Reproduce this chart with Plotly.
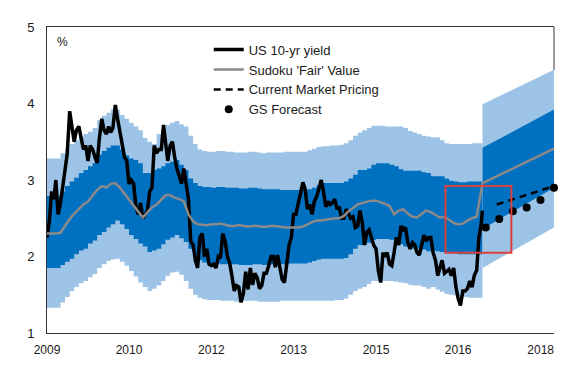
import pandas as pd
import plotly.graph_objects as go

# ---------------- data ----------------
TICK_DATES = ['2009-01-01', '2010-07-01', '2012-01-01', '2013-07-01',
              '2015-01-01', '2016-07-01', '2018-01-01']
TICK_LABELS = ['2009', '2010', '2012', '2013', '2015', '2016', '2018']

# US 10-yr yield, read on the 1st and 16th of each month
YIELD_2009 = [2.25, 2.45, 2.85, 2.75, 3.00, 2.55, 2.70, 2.90, 3.15, 3.35, 3.90, 3.70,
              3.50, 3.65, 3.70, 3.55, 3.40, 3.45, 3.25, 3.45, 3.40, 3.30, 3.22, 3.55]
YIELD_2010 = [3.80, 3.65, 3.60, 3.70, 3.62, 3.68, 3.98, 3.80, 3.65, 3.45, 3.30, 3.25,
              2.95, 3.00, 2.95, 2.65, 2.55, 2.70, 2.50, 2.55, 2.60, 2.85, 2.90, 3.45]
YIELD_2011 = [3.35, 3.40, 3.40, 3.72, 3.45, 3.25, 3.45, 3.50, 3.30, 3.15, 3.05, 2.95,
              3.15, 2.95, 2.75, 2.20, 2.15, 1.95, 1.85, 2.25, 2.30, 2.00, 2.10, 1.90]
YIELD_2012 = [1.88, 1.90, 1.85, 2.00, 1.98, 2.30, 2.20, 2.00, 1.92, 1.75, 1.55, 1.62,
              1.60, 1.40, 1.52, 1.80, 1.57, 1.85, 1.63, 1.78, 1.72, 1.58, 1.62, 1.78]
YIELD_2013 = [1.78, 1.88, 2.00, 2.00, 1.86, 2.02, 1.85, 1.70, 1.66, 1.95, 2.15, 2.25,
              2.55, 2.55, 2.68, 2.85, 2.97, 2.88, 2.62, 2.68, 2.55, 2.72, 2.78, 2.88]
YIELD_2014 = [3.00, 2.85, 2.65, 2.72, 2.68, 2.70, 2.75, 2.62, 2.65, 2.50, 2.50, 2.62,
              2.55, 2.50, 2.52, 2.38, 2.40, 2.60, 2.45, 2.15, 2.32, 2.35, 2.25, 2.15]
YIELD_2015 = [2.10, 1.82, 1.66, 2.05, 2.00, 2.05, 1.90, 1.88, 2.05, 2.25, 2.15, 2.40,
              2.35, 2.38, 2.18, 2.10, 2.18, 2.15, 2.05, 2.02, 2.15, 2.28, 2.20, 2.25]
YIELD_2016 = [2.25, 2.05, 1.95, 1.75, 1.85, 1.95, 1.78, 1.80, 1.83, 1.75, 1.85, 1.60,
              1.45, 1.36, 1.55, 1.55, 1.58, 1.68, 1.60, 1.75, 1.82, 2.25, 2.42]
YIELD_END_DATE = '2016-12-09'
YIELD_END = 2.60

# Sudoku 'Fair' value and bands, monthly Jan 2009 - Nov 2016
FAIR = [2.30, 2.30, 2.30, 2.31, 2.40, 2.49, 2.56, 2.62, 2.68, 2.72, 2.80, 2.87,
        2.92, 2.90, 2.95, 2.96, 2.90, 2.82, 2.75, 2.67, 2.58, 2.51, 2.58, 2.64,
        2.68, 2.74, 2.80, 2.80, 2.77, 2.75, 2.72, 2.55, 2.46, 2.42, 2.41, 2.41,
        2.42, 2.42, 2.43, 2.41, 2.40, 2.40, 2.41, 2.40, 2.39, 2.40, 2.40, 2.39,
        2.39, 2.40, 2.40, 2.39, 2.38, 2.38, 2.38, 2.38, 2.39, 2.42, 2.45, 2.47,
        2.47, 2.48, 2.49, 2.50, 2.50, 2.53, 2.59, 2.64, 2.68, 2.70, 2.72, 2.73,
        2.73, 2.71, 2.69, 2.66, 2.55, 2.60, 2.62, 2.56, 2.52, 2.51, 2.56, 2.60,
        2.58, 2.54, 2.51, 2.52, 2.48, 2.44, 2.42, 2.43, 2.47, 2.50, 2.52]
LIGHT_UP = [3.28, 3.28, 3.28, 3.35, 3.40, 3.47, 3.52, 3.57, 3.60, 3.63, 3.68, 3.78,
            3.84, 3.88, 3.92, 3.92, 3.85, 3.80, 3.75, 3.70, 3.65, 3.55, 3.50, 3.47,
            3.60, 3.66, 3.72, 3.75, 3.77, 3.73, 3.70, 3.58, 3.47, 3.40, 3.38, 3.37,
            3.37, 3.38, 3.38, 3.37, 3.37, 3.36, 3.36, 3.36, 3.37, 3.37, 3.36, 3.35,
            3.36, 3.36, 3.36, 3.36, 3.37, 3.37, 3.37, 3.37, 3.37, 3.39, 3.41, 3.43,
            3.44, 3.44, 3.45, 3.45, 3.46, 3.48, 3.52, 3.58, 3.62, 3.65, 3.68, 3.71,
            3.71, 3.71, 3.70, 3.70, 3.70, 3.70, 3.68, 3.64, 3.62, 3.60, 3.58, 3.57,
            3.56, 3.56, 3.52, 3.48, 3.47, 3.47, 3.47, 3.47, 3.47, 3.48, 3.48]
DARK_UP = [2.79, 2.79, 2.79, 2.85, 2.92, 2.98, 3.03, 3.09, 3.13, 3.18, 3.22, 3.33,
           3.38, 3.42, 3.45, 3.45, 3.40, 3.32, 3.28, 3.26, 3.22, 3.09, 3.09, 3.13,
           3.15, 3.18, 3.22, 3.24, 3.26, 3.20, 3.13, 3.02, 2.96, 2.92, 2.91, 2.91,
           2.90, 2.91, 2.91, 2.90, 2.90, 2.90, 2.89, 2.89, 2.90, 2.90, 2.89, 2.88,
           2.88, 2.88, 2.88, 2.87, 2.87, 2.87, 2.87, 2.87, 2.87, 2.88, 2.90, 2.93,
           2.96, 2.96, 2.96, 2.96, 2.96, 2.98, 3.02, 3.07, 3.13, 3.13, 3.15, 3.20,
           3.22, 3.22, 3.22, 3.20, 3.18, 3.14, 3.12, 3.12, 3.12, 3.12, 3.10, 3.09,
           3.05, 3.05, 3.05, 3.02, 2.99, 2.98, 2.97, 2.97, 2.98, 2.98, 2.98]
DARK_LO = [1.85, 1.85, 1.85, 1.89, 1.93, 1.97, 2.03, 2.08, 2.10, 2.17, 2.21, 2.28,
           2.32, 2.38, 2.42, 2.47, 2.42, 2.36, 2.28, 2.23, 2.17, 2.13, 2.06, 2.08,
           2.10, 2.16, 2.22, 2.25, 2.28, 2.24, 2.19, 2.10, 2.00, 1.95, 1.92, 1.91,
           1.91, 1.91, 1.90, 1.90, 1.90, 1.90, 1.89, 1.89, 1.89, 1.90, 1.90, 1.89,
           1.89, 1.90, 1.90, 1.90, 1.90, 1.91, 1.91, 1.91, 1.91, 1.92, 1.94, 1.96,
           1.97, 1.97, 1.97, 1.97, 1.97, 1.98, 2.03, 2.10, 2.15, 2.15, 2.18, 2.22,
           2.23, 2.23, 2.23, 2.22, 2.20, 2.16, 2.13, 2.11, 2.10, 2.10, 2.09, 2.07,
           2.08, 2.07, 2.06, 2.05, 2.05, 2.04, 2.03, 2.03, 2.03, 2.03, 2.03]
LIGHT_LO = [1.33, 1.33, 1.33, 1.40, 1.47, 1.55, 1.60, 1.65, 1.68, 1.73, 1.77, 1.85,
            1.90, 1.94, 1.96, 1.97, 1.93, 1.88, 1.81, 1.74, 1.66, 1.60, 1.55, 1.58,
            1.62, 1.68, 1.75, 1.79, 1.80, 1.76, 1.68, 1.58, 1.50, 1.46, 1.44, 1.43,
            1.43, 1.43, 1.42, 1.42, 1.42, 1.41, 1.41, 1.42, 1.42, 1.42, 1.41, 1.41,
            1.41, 1.41, 1.41, 1.42, 1.42, 1.42, 1.42, 1.42, 1.42, 1.42, 1.42, 1.42,
            1.42, 1.42, 1.42, 1.43, 1.43, 1.45, 1.50, 1.55, 1.58, 1.60, 1.64, 1.68,
            1.68, 1.68, 1.68, 1.68, 1.67, 1.66, 1.65, 1.63, 1.62, 1.62, 1.60, 1.58,
            1.60, 1.57, 1.54, 1.51, 1.50, 1.49, 1.48, 1.47, 1.46, 1.46, 1.46]

# forward fan
FAN_DATES = ['2016-12-10', '2018-03-31']
FAN_FAIR = [2.96, 3.41]
FAN_LIGHT_UP = [3.99, 4.44]
FAN_DARK_UP = [3.42, 3.92]
FAN_DARK_LO = [2.36, 2.90]
FAN_LIGHT_LO = [1.85, 2.38]

MKT_DATES = ['2017-03-15', '2017-09-30', '2018-03-31']
MKT_VALUES = [2.68, 2.81, 2.92]

GS_DATES = ['2017-01-01', '2017-03-31', '2017-06-30', '2017-09-30', '2017-12-31', '2018-03-31']
GS_VALUES = [2.38, 2.49, 2.59, 2.64, 2.74, 2.90]

BOX_X = ['2016-04-07', '2017-06-20']
BOX_Y = [2.05, 2.92]

X_RANGE = ['2009-01-01', '2018-03-31']

# ---------------- build ----------------
LIGHT = '#9DC3E6'
DARK = '#0070C0'
FONT = 'Arial, Liberation Sans, sans-serif'
TXT = '#1a1a1a'

months = list(pd.date_range('2009-01-01', periods=len(FAIR), freq='MS'))
edges = months + [pd.Timestamp(FAN_DATES[0])]


def stepped(vals):
    xs, ys = [], []
    for i, v in enumerate(vals):
        xs += [edges[i], edges[i + 1]]
        ys += [v, v]
    return xs, ys


yield_vals = (YIELD_2009 + YIELD_2010 + YIELD_2011 + YIELD_2012 + YIELD_2013 +
              YIELD_2014 + YIELD_2015 + YIELD_2016)
yield_dates = []
for m in pd.date_range('2009-01-01', '2016-12-01', freq='MS'):
    yield_dates.append(m)
    yield_dates.append(m + pd.Timedelta(days=15))
yield_dates = yield_dates[:len(yield_vals)] + [pd.Timestamp(YIELD_END_DATE)]
yield_vals = yield_vals + [YIELD_END]

fig = go.Figure()


def band(x, lo, hi, color):
    fig.add_trace(go.Scatter(x=x, y=lo, mode='lines', line=dict(width=0, simplify=False),
                             showlegend=False, hoverinfo='skip'))
    fig.add_trace(go.Scatter(x=x, y=hi, mode='lines', line=dict(width=0, simplify=False),
                             fill='tonexty', fillcolor=color, showlegend=False,
                             hoverinfo='skip'))


sx, s_ll = stepped(LIGHT_LO)
_, s_lu = stepped(LIGHT_UP)
_, s_dl = stepped(DARK_LO)
_, s_du = stepped(DARK_UP)
band(sx, s_ll, s_lu, LIGHT)
band(sx, s_dl, s_du, DARK)
band(FAN_DATES, FAN_LIGHT_LO, FAN_LIGHT_UP, LIGHT)
band(FAN_DATES, FAN_DARK_LO, FAN_DARK_UP, DARK)

fig.add_trace(go.Scatter(x=yield_dates, y=yield_vals, mode='lines', name='US 10-yr yield',
                         legendgroup='a', line=dict(color='black', width=3.5)))
fig.add_trace(go.Scatter(x=months + FAN_DATES, y=FAIR + FAN_FAIR, mode='lines',
                         name="Sudoku 'Fair' Value", legendgroup='b',
                         line=dict(color='#8a8a8a', width=2.5)))
fig.add_trace(go.Scatter(x=MKT_DATES, y=MKT_VALUES, mode='lines', name='Current Market Pricing',
                         legendgroup='c', line=dict(color='black', width=2.5, dash='7px,5px')))
fig.add_trace(go.Scatter(x=GS_DATES, y=GS_VALUES, mode='markers', name='GS Forecast',
                         legendgroup='d', marker=dict(color='black', size=8), cliponaxis=False))

fig.add_shape(type='rect', xref='x', yref='y', x0=BOX_X[0], x1=BOX_X[1],
              y0=BOX_Y[0], y1=BOX_Y[1], line=dict(color='#D9403F', width=2))
# right frame edge, visible only above the fan
fig.add_shape(type='line', xref='paper', yref='y', x0=1, x1=1,
              y0=FAN_LIGHT_UP[-1], y1=5, line=dict(color='#333333', width=1))

fig.add_annotation(text='%', xref='paper', yref='paper', x=0.03, y=0.95,
                   showarrow=False, font=dict(family=FONT, size=12, color=TXT),
                   xanchor='center', yanchor='middle')

# page body has an 8px margin, so the figure is 8px smaller with 8px less margin
fig.update_layout(
    width=575, height=368, autosize=False,
    margin=dict(l=39, r=29, t=13, b=43),
    paper_bgcolor='white', plot_bgcolor='white',
    font=dict(family=FONT, size=12, color=TXT),
    showlegend=True,
    legend=dict(x=0.319, y=0.975, xanchor='left', yanchor='top', traceorder='normal',
                bgcolor='rgba(0,0,0,0)', font=dict(family=FONT, size=13, color=TXT),
                tracegroupgap=3, itemwidth=30),
    xaxis=dict(type='date', range=X_RANGE, tickvals=TICK_DATES, ticktext=TICK_LABELS,
               showgrid=False, zeroline=False, showline=True, linecolor='#333333',
               linewidth=1, mirror=True, ticks='', ticklabelstandoff=6,
               tickfont=dict(size=12, color=TXT)),
    yaxis=dict(range=[1, 5], tickvals=[1, 2, 3, 4, 5], showgrid=False, zeroline=False,
               showline=True, linecolor='#333333', linewidth=1, ticks='',
               ticklabelstandoff=9, tickfont=dict(size=13, color=TXT)),
)

fig.write_html('out.html')
